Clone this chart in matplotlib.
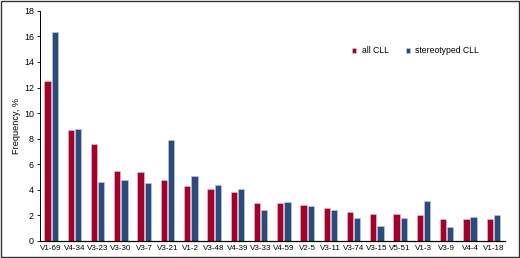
import numpy as np
import matplotlib
matplotlib.use("Agg")
from matplotlib import pyplot as plt

genes = ['V1-69', 'V4-34', 'V3-23', 'V3-30', 'V3-7', 'V3-21', 'V1-2', 'V3-48',
         'V4-39', 'V3-33', 'V4-59', 'V2-5', 'V3-11', 'V3-74', 'V3-15', 'V5-51',
         'V1-3', 'V3-9', 'V4-4', 'V1-18']
all_cll = [12.5, 8.7, 7.6, 5.5, 5.4, 4.8, 4.3, 4.1, 3.8, 3.0, 3.0, 2.8,
           2.55, 2.3, 2.1, 2.1, 2.0, 1.7, 1.7, 1.7]
stereo_cll = [16.35, 8.75, 4.6, 4.75, 4.5, 7.9, 5.05, 4.4, 4.1, 2.45, 3.05, 2.7,
              2.4, 1.8, 1.15, 1.8, 3.1, 1.1, 1.85, 2.0]

red = '#a4002a'
blue = '#2b4a7e'

plt.rcParams['font.family'] = ['Liberation Sans', 'DejaVu Sans']

fig = plt.figure(figsize=(5.2, 2.58), dpi=100)
ax = fig.add_axes([0.076, 0.066, 0.895, 0.892])

x = np.arange(len(genes))
w = 0.27
ax.bar(x - 0.155, all_cll, w, color=red, edgecolor='#e8c8cf', linewidth=0.4, label='all CLL')
ax.bar(x + 0.155, stereo_cll, w, color=blue, edgecolor='#c5cfe0', linewidth=0.4, label='stereotyped CLL')

ax.set_xlim(-0.5, 19.5)
ax.set_ylim(0, 18)
ax.set_yticks(range(0, 19, 2))
ax.set_xticks(x)
ax.set_xticklabels(genes)
ax.tick_params(axis='x', length=0, labelsize=5.8, pad=3)
ax.tick_params(axis='y', length=2.5, width=0.6, labelsize=6.4, pad=1.5)
ax.set_ylabel('Frequency, %', fontsize=6.6, labelpad=2)
for s in ['top', 'right']:
    ax.spines[s].set_visible(False)
ax.spines['left'].set_linewidth(0.7)
ax.spines['bottom'].set_linewidth(0.9)

ax.legend(loc='upper left', bbox_to_anchor=(0.655, 0.88), ncol=2, frameon=False,
          fontsize=6.2, handlelength=0.5, handleheight=0.5, handletextpad=0.6,
          columnspacing=2.0)

fig.patches.append(plt.Rectangle((0.002, 0.004), 0.996, 0.992, transform=fig.transFigure,
                                 fill=False, edgecolor='#333333', linewidth=1.0))

fig.savefig('out.png', dpi=100)
